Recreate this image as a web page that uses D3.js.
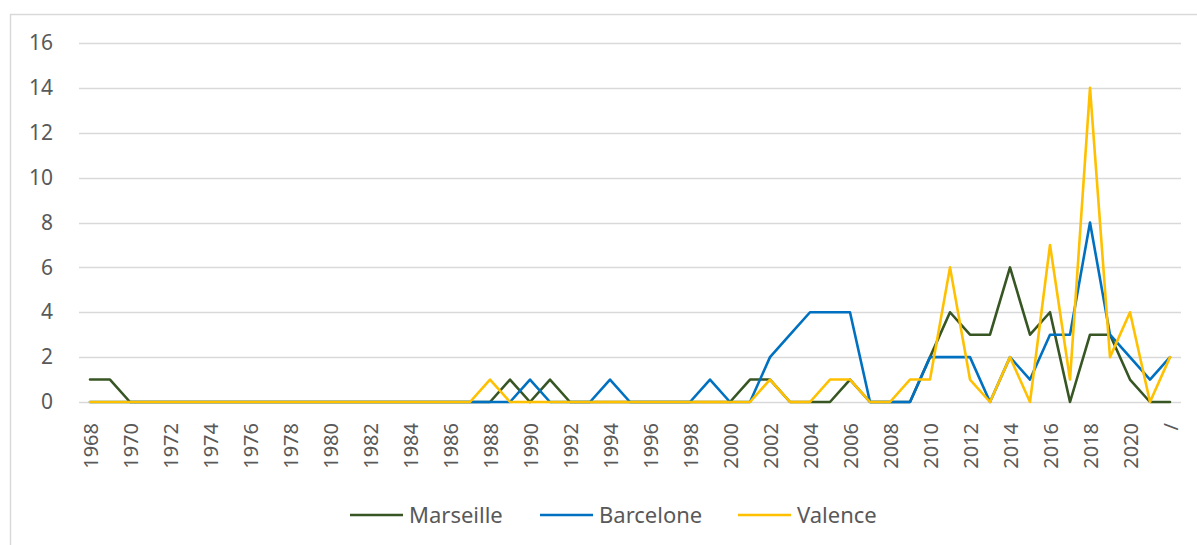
<!DOCTYPE html>
<html>
<head>
<meta charset="utf-8">
<script src="https://cdn.jsdelivr.net/npm/d3@7"></script>
<style>
  html, body { margin: 0; padding: 0; background: #fff; }
  svg { display: block; }
  text { font-family: "Noto Sans", "Open Sans", sans-serif; fill: #595959; }
</style>
</head>
<body>
<svg id="chart" width="1197" height="545"></svg>
<script>
// Categories: one per year, plus "/" for undated entries
const years = [
  "1968","1969","1970","1971","1972","1973","1974","1975","1976","1977",
  "1978","1979","1980","1981","1982","1983","1984","1985","1986","1987",
  "1988","1989","1990","1991","1992","1993","1994","1995","1996","1997",
  "1998","1999","2000","2001","2002","2003","2004","2005","2006","2007",
  "2008","2009","2010","2011","2012","2013","2014","2015","2016","2017",
  "2018","2019","2020","2021","/"
];

const marseille = [
  1,1,0,0,0,0,0,0,0,0,
  0,0,0,0,0,0,0,0,0,0,
  0,1,0,1,0,0,0,0,0,0,
  0,0,0,1,1,0,0,0,1,0,
  0,0,2,4,3,3,6,3,4,0,
  3,3,1,0,0
];

const barcelone = [
  0,0,0,0,0,0,0,0,0,0,
  0,0,0,0,0,0,0,0,0,0,
  0,0,1,0,0,0,1,0,0,0,
  0,1,0,0,2,3,4,4,4,0,
  0,0,2,2,2,0,2,1,3,3,
  8,3,2,1,2
];

const valence = [
  0,0,0,0,0,0,0,0,0,0,
  0,0,0,0,0,0,0,0,0,0,
  1,0,0,0,0,0,0,0,0,0,
  0,0,0,0,1,0,0,1,1,0,
  0,1,1,6,1,0,2,0,7,1,
  14,2,4,0,2
];

const yTicks = [0, 2, 4, 6, 8, 10, 12, 14, 16];

const seriesList = [
  { name: "Marseille", values: marseille, color: "#375623" },
  { name: "Barcelone", values: barcelone, color: "#0070C0" },
  { name: "Valence",   values: valence,   color: "#FFC000" }
];

const svg = d3.select("#chart");

// Outer chart frame
svg.append("rect")
  .attr("x", 10.5).attr("y", 14.5)
  .attr("width", 1200).attr("height", 560)
  .attr("fill", "none")
  .attr("stroke", "#D9D9D9")
  .attr("stroke-width", 1.5);

const plot = { left: 80, right: 1180, top: 43, bottom: 402 };

const x = d3.scalePoint()
  .domain(years)
  .range([plot.left, plot.right])
  .padding(0.5);

const y = d3.scaleLinear()
  .domain([0, 16])
  .range([plot.bottom, plot.top]);

// Horizontal gridlines
svg.append("g")
  .selectAll("line")
  .data(yTicks)
  .join("line")
  .attr("x1", plot.left - 1).attr("x2", plot.right + 1)
  .attr("y1", d => Math.round(y(d)) + 0.5)
  .attr("y2", d => Math.round(y(d)) + 0.5)
  .attr("stroke", "#D9D9D9")
  .attr("stroke-width", 1.3);

// Y axis labels
const yAxis = d3.axisLeft(y).tickValues(yTicks).tickSize(0).tickPadding(0);
svg.append("g")
  .attr("transform", "translate(53,0)")
  .call(yAxis)
  .call(g => g.select(".domain").remove())
  .call(g => g.selectAll("text")
    .attr("font-size", 21)
    .attr("fill", "#595959")
    .style("font-family", "'Noto Sans', sans-serif"));

// X axis labels, rotated, every other category
const xAxis = d3.axisBottom(x)
  .tickValues(years.filter((d, i) => i % 2 === 0))
  .tickSize(0)
  .tickPadding(0);
svg.append("g")
  .attr("transform", `translate(0,${plot.bottom})`)
  .call(xAxis)
  .call(g => g.select(".domain").remove())
  .call(g => g.selectAll("text")
    .attr("font-size", 20)
    .attr("fill", "#595959")
    .style("font-family", "'Noto Sans', sans-serif")
    .attr("text-anchor", "end")
    .attr("transform", "translate(0,21) rotate(-90)")
    .attr("x", 0)
    .attr("y", 0)
    .attr("dy", "0.36em"));

// Series lines
const line = d3.line()
  .x((d, i) => x(years[i]))
  .y(d => y(d));

svg.append("g")
  .selectAll("path")
  .data(seriesList)
  .join("path")
  .attr("d", s => line(s.values))
  .attr("fill", "none")
  .attr("stroke", s => s.color)
  .attr("stroke-width", 2.6)
  .attr("stroke-linejoin", "round")
  .attr("stroke-linecap", "round");

// Legend
const legendItems = [
  { series: seriesList[0], x: 350 },
  { series: seriesList[1], x: 540 },
  { series: seriesList[2], x: 738 }
];
const legendY = 515;
const lg = svg.append("g")
  .selectAll("g")
  .data(legendItems)
  .join("g")
  .attr("transform", d => `translate(${d.x},${legendY})`);
lg.append("line")
  .attr("x1", 0).attr("x2", 53)
  .attr("y1", 0).attr("y2", 0)
  .attr("stroke", d => d.series.color)
  .attr("stroke-width", 2.6);
lg.append("text")
  .attr("x", 59)
  .attr("y", 0)
  .attr("dy", "0.36em")
  .attr("font-size", 22)
  .text(d => d.series.name);
</script>
</body>
</html>
